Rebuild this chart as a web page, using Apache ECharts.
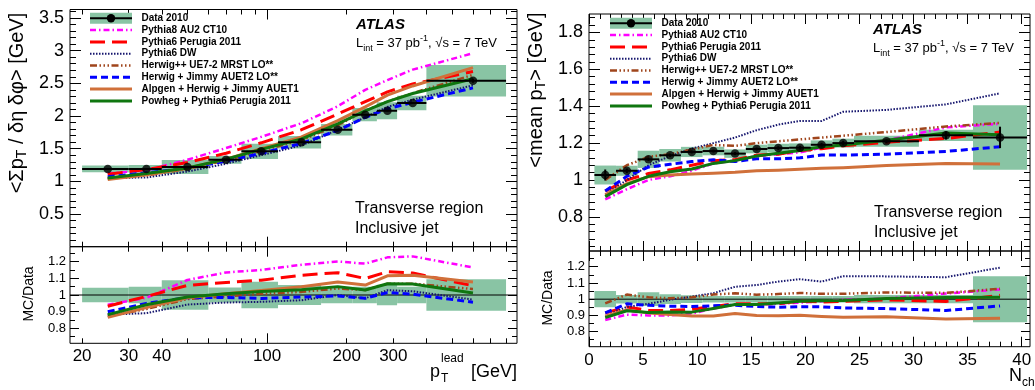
<!DOCTYPE html>
<html>
<head>
<meta charset="utf-8">
<script src="https://cdn.jsdelivr.net/npm/echarts@6.0.0/dist/echarts.min.js"></script>
<style>
html, body { margin: 0; padding: 0; background: #fff; }
#chart { width: 1035px; height: 390px; }
</style>
</head>
<body>
<div id="chart"></div>
<script>
// ---------- Sum pT density vs leading-jet pT (transverse region) ----------
const ptEdges   = [20, 30, 40, 60, 80, 110, 160, 210, 260, 310, 400, 800];
const ptCenters = [25, 35, 50, 70, 95, 135, 185, 235, 285, 355, 600];
const sumPtData    = [1.19, 1.19, 1.22, 1.33, 1.46, 1.60, 1.79, 2.02, 2.08, 2.20, 2.54];
const sumPtStat    = [0.01, 0.01, 0.01, 0.01, 0.01, 0.01, 0.01, 0.01, 0.012, 0.015, 0.03];
const sumPtSystRel = [0.043, 0.05, 0.088, 0.045, 0.08, 0.06, 0.05, 0.05, 0.062, 0.05, 0.095];
const sumPtPythia8  = [1.12, 1.17, 1.33, 1.51, 1.68, 1.89, 2.15, 2.40, 2.55, 2.71, 2.96];
const sumPtPerugia  = [1.11, 1.18, 1.29, 1.43, 1.59, 1.79, 2.03, 2.22, 2.37, 2.49, 2.68];
const sumPtDW       = [1.05, 1.06, 1.15, 1.27, 1.40, 1.55, 1.79, 1.98, 2.14, 2.25, 2.47];
const sumPtHerwigpp = [1.04, 1.09, 1.19, 1.32, 1.47, 1.63, 1.86, 2.08, 2.22, 2.35, 2.63];
const sumPtJimmy    = [1.07, 1.13, 1.20, 1.31, 1.43, 1.58, 1.78, 1.98, 2.11, 2.21, 2.43];
const sumPtAlpgen   = [1.03, 1.10, 1.20, 1.34, 1.50, 1.68, 1.93, 2.14, 2.32, 2.46, 2.74];
const sumPtPowheg   = [1.05, 1.12, 1.205, 1.34, 1.49, 1.65, 1.88, 2.08, 2.22, 2.345, 2.57];

// ---------- Mean pT vs charged multiplicity (transverse region) ----------
const nchEdges   = [0.5, 2.5, 4.5, 6.5, 8.5, 10.5, 12.5, 14.5, 16.5, 18.5, 20.5, 22.5, 24.5, 30.5, 35.5, 40.5];
const nchCenters = [1.5, 3.5, 5.5, 7.5, 9.5, 11.5, 13.5, 15.5, 17.5, 19.5, 21.5, 23.5, 27.5, 33, 38];
const meanPtData    = [1.027, 1.05, 1.112, 1.134, 1.152, 1.157, 1.143, 1.168, 1.173, 1.175, 1.191, 1.20, 1.21, 1.242, 1.231];
const meanPtStat    = [0.03, 0.012, 0.008, 0.008, 0.008, 0.008, 0.008, 0.008, 0.01, 0.01, 0.01, 0.012, 0.01, 0.022, 0.058];
const meanPtSystRel = [0.05, 0.026, 0.042, 0.03, 0.024, 0.02, 0.02, 0.02, 0.02, 0.02, 0.02, 0.02, 0.025, 0.025, 0.142];
const meanPtPythia8  = [0.895, 0.95, 1.00, 1.02, 1.05, 1.09, 1.105, 1.13, 1.14, 1.15, 1.175, 1.195, 1.215, 1.285, 1.305];
const meanPtPerugia  = [0.94, 1.00, 1.035, 1.055, 1.08, 1.105, 1.11, 1.135, 1.14, 1.16, 1.17, 1.185, 1.205, 1.225, 1.26];
const meanPtDW       = [0.92, 1.00, 1.08, 1.13, 1.17, 1.20, 1.23, 1.27, 1.30, 1.32, 1.32, 1.37, 1.38, 1.41, 1.47];
const meanPtHerwigpp = [1.00, 1.08, 1.125, 1.14, 1.165, 1.19, 1.185, 1.20, 1.21, 1.22, 1.23, 1.24, 1.26, 1.29, 1.31];
const meanPtJimmy    = [0.94, 1.02, 1.07, 1.085, 1.10, 1.11, 1.10, 1.115, 1.115, 1.12, 1.135, 1.135, 1.14, 1.155, 1.18];
const meanPtAlpgen   = [0.92, 0.98, 1.018, 1.027, 1.033, 1.037, 1.042, 1.05, 1.053, 1.058, 1.064, 1.067, 1.078, 1.09, 1.087];
const meanPtPowheg   = [0.91, 0.975, 1.02, 1.045, 1.06, 1.09, 1.105, 1.13, 1.145, 1.16, 1.18, 1.19, 1.215, 1.255, 1.245];

// ---------- Labels ----------
const dataLabel = 'Data 2010';
const modelNames = [
  'Pythia8 AU2 CT10',
  'Pythia6 Perugia 2011',
  'Pythia6 DW',
  'Herwig++ UE7-2 MRST LO**',
  'Herwig + Jimmy AUET2 LO**',
  'Alpgen + Herwig + Jimmy AUET1',
  'Powheg + Pythia6 Perugia 2011'
];
const ptTickLabels  = [20, 30, 40, 100, 200, 300];
const nchTickLabels = [0, 5, 10, 15, 20, 25, 30, 35, 40];

const sumPtModels  = [sumPtPythia8, sumPtPerugia, sumPtDW, sumPtHerwigpp, sumPtJimmy, sumPtAlpgen, sumPtPowheg];
const meanPtModels = [meanPtPythia8, meanPtPerugia, meanPtDW, meanPtHerwigpp, meanPtJimmy, meanPtAlpgen, meanPtPowheg];

// ---------- Styling ----------
const FONT = '"Liberation Sans", Arial, Helvetica, sans-serif';
const BOX_COLOR = '#89c4a4';
const modelStyles = [
  { color: '#ff00ff', width: 2.5, dash: [6, 3, 1.5, 3] },
  { color: '#ff0000', width: 3,   dash: [15, 7] },
  { color: '#16166e', width: 2,   dash: [1.5, 1.5] },
  { color: '#a0451c', width: 2.5, dash: [7, 2.5, 1.5, 2.5, 1.5, 2.5, 1.5, 2.5] },
  { color: '#0000ff', width: 3,   dash: [7, 4] },
  { color: '#d0703a', width: 3,   dash: 'solid' },
  { color: '#0f760f', width: 3,   dash: 'solid' }
];

const lg = v => Math.log10(v);
const ident = v => v;
function steps(a, b, s) {
  const out = [];
  for (let k = 0; a + k * s <= b + 1e-9; k++) out.push(Math.round((a + k * s) * 10000) / 10000);
  return out;
}

const xAxes = [];
const yAxes = [];
const grids = [];

// One panel = one grid framed on all four sides, with ROOT-style inward ticks
function addPanel(rect, xs, ys) {
  const g = grids.length;
  grids.push(Object.assign({ show: true, borderColor: '#000', borderWidth: 1, backgroundColor: 'transparent',
    containLabel: false, outerBoundsMode: 'none' }, rect));
  const xi = xAxes.length;
  ['bottom', 'top'].forEach((pos, k) => {
    [[xs.major, xs.majorLen], [xs.minor, xs.minorLen]].forEach(([vals, len], m) => {
      const withLabels = k === 0 && m === 0 && xs.labels;
      xAxes.push({
        gridIndex: g, type: 'value', position: pos, min: xs.min, max: xs.max,
        axisLine: { show: false, onZero: false },
        splitLine: { show: false },
        axisTick: { show: true, inside: true, length: len, customValues: vals, lineStyle: { color: '#000', width: 1 } },
        axisLabel: withLabels ? {
          show: true, customValues: xs.labels, formatter: xs.fmt, margin: xs.margin,
          fontSize: xs.fontSize, color: '#000', fontFamily: FONT
        } : { show: false }
      });
    });
  });
  const yi = yAxes.length;
  ['left', 'right'].forEach((pos, k) => {
    [[ys.major, ys.majorLen], [ys.minor, ys.minorLen]].forEach(([vals, len], m) => {
      const withLabels = k === 0 && m === 0 && ys.labels;
      yAxes.push({
        gridIndex: g, type: 'value', position: pos, min: ys.min, max: ys.max,
        axisLine: { show: false, onZero: false },
        splitLine: { show: false },
        axisTick: { show: true, inside: true, length: len, customValues: vals, lineStyle: { color: '#000', width: 1 } },
        axisLabel: withLabels ? {
          show: true, customValues: ys.labels, margin: ys.margin,
          fontSize: ys.fontSize, color: '#000', fontFamily: FONT
        } : { show: false }
      });
    });
  });
  return { xi, yi };
}

// tick sets
const ptMajor = [lg(100)];
const ptMinor = [20, 30, 40, 50, 60, 70, 80, 90, 200, 300, 400, 500, 600, 700, 800].map(lg);
const ptLabelFmt = v => String(Math.round(Math.pow(10, v)));
const nchMajor = steps(0, 40, 5);
const nchMinor = steps(0, 40, 1);
const ratioMajor = [0.8, 0.9, 1, 1.1, 1.2];
const ratioMinor = steps(0.75, 1.25, 0.05);

const ptX = { min: lg(18), max: lg(880), major: ptMajor, minor: ptMinor, majorLen: 10, minorLen: 5 };
const nchX = { min: 0, max: 40.77, major: nchMajor, minor: nchMinor, majorLen: 10, minorLen: 5 };

const pL = addPanel({ left: 70, top: 9.5, width: 447, height: 237.2 },
  ptX,
  { min: 0, max: 3.63, major: steps(0, 3.5, 0.5), minor: steps(0, 3.6, 0.1), majorLen: 11, minorLen: 6,
    labels: steps(0.5, 3.5, 0.5), margin: 6, fontSize: 18 });
const rL = addPanel({ left: 70, top: 246.7, width: 447, height: 96.6 },
  Object.assign({}, ptX, { labels: ptTickLabels.map(lg), fmt: ptLabelFmt, margin: 5, fontSize: 17 }),
  { min: 0.71, max: 1.29, major: ratioMajor, minor: ratioMinor, majorLen: 9, minorLen: 5,
    labels: ratioMajor, margin: 4, fontSize: 13 });
const pR = addPanel({ left: 589, top: 14, width: 441, height: 237 },
  nchX,
  { min: 0.615, max: 1.9, major: steps(0.8, 1.8, 0.2), minor: steps(0.64, 1.88, 0.04), majorLen: 11, minorLen: 6,
    labels: steps(0.8, 1.8, 0.2), margin: 6, fontSize: 18 });
const rR = addPanel({ left: 589, top: 251, width: 441, height: 95.7 },
  Object.assign({}, nchX, { labels: nchTickLabels, margin: 5, fontSize: 17 }),
  { min: 0.707, max: 1.297, major: ratioMajor, minor: ratioMinor, majorLen: 9, minorLen: 5,
    labels: ratioMajor, margin: 4, fontSize: 13 });

// ---------- Series builders ----------
function boxSeries(ax, edges, vals, rel, tx) {
  return {
    type: 'custom', xAxisIndex: ax.xi, yAxisIndex: ax.yi, z: 1, silent: true, clip: true,
    data: vals.map((v, i) => [tx(edges[i]), tx(edges[i + 1]), v * (1 - rel[i]), v * (1 + rel[i])]),
    renderItem: (params, api) => {
      const a = api.coord([api.value(0), api.value(3)]);
      const b = api.coord([api.value(1), api.value(2)]);
      return { type: 'rect', shape: { x: a[0], y: a[1], width: b[0] - a[0], height: b[1] - a[1] },
        style: { fill: BOX_COLOR } };
    }
  };
}

function modelSeries(ax, centers, vals, k, tx) {
  const s = modelStyles[k];
  return {
    type: 'line', xAxisIndex: ax.xi, yAxisIndex: ax.yi, z: 3 + k, silent: true,
    symbol: 'none', showSymbol: false, clip: true,
    data: centers.map((c, i) => [tx(c), vals[i]]),
    lineStyle: { color: s.color, width: s.width, type: s.dash, cap: 'butt', join: 'round' }
  };
}

function dataSeries(ax, edges, centers, vals, stat, tx) {
  return [{
    type: 'custom', xAxisIndex: ax.xi, yAxisIndex: ax.yi, z: 20, silent: true, clip: true,
    data: vals.map((v, i) => [tx(edges[i]), tx(edges[i + 1]), v, stat[i], tx(centers[i])]),
    renderItem: (params, api) => {
      const l = api.coord([api.value(0), api.value(2)]);
      const r = api.coord([api.value(1), api.value(2)]);
      const t = api.coord([api.value(4), api.value(2) + api.value(3)]);
      const b = api.coord([api.value(4), api.value(2) - api.value(3)]);
      return { type: 'group', children: [
        { type: 'line', shape: { x1: l[0], y1: l[1], x2: r[0], y2: r[1] }, style: { stroke: '#000', lineWidth: 2 } },
        { type: 'line', shape: { x1: t[0], y1: t[1], x2: b[0], y2: b[1] }, style: { stroke: '#000', lineWidth: 2 } }
      ] };
    }
  }, {
    type: 'scatter', xAxisIndex: ax.xi, yAxisIndex: ax.yi, z: 21, silent: true,
    symbol: 'circle', symbolSize: 8.5, itemStyle: { color: '#000' },
    data: centers.map((c, i) => [tx(c), vals[i]])
  }];
}

function unitLine(ax, xmin, xmax) {
  return {
    type: 'line', xAxisIndex: ax.xi, yAxisIndex: ax.yi, z: 2, silent: true, symbol: 'none',
    data: [[xmin, 1], [xmax, 1]], lineStyle: { color: '#000', width: 1 }
  };
}

const series = [];
// left: main panel
series.push(boxSeries(pL, ptEdges, sumPtData, sumPtSystRel, lg));
sumPtModels.forEach((m, k) => series.push(modelSeries(pL, ptCenters, m, k, lg)));
series.push(...dataSeries(pL, ptEdges, ptCenters, sumPtData, sumPtStat, lg));
// left: ratio panel
series.push(boxSeries(rL, ptEdges, sumPtData.map(() => 1), sumPtSystRel, lg));
series.push(unitLine(rL, ptX.min, ptX.max));
sumPtModels.forEach((m, k) => series.push(modelSeries(rL, ptCenters, m.map((v, i) => v / sumPtData[i]), k, lg)));
// right: main panel
series.push(boxSeries(pR, nchEdges, meanPtData, meanPtSystRel, ident));
meanPtModels.forEach((m, k) => series.push(modelSeries(pR, nchCenters, m, k, ident)));
series.push(...dataSeries(pR, nchEdges, nchCenters, meanPtData, meanPtStat, ident));
// right: ratio panel
series.push(boxSeries(rR, nchEdges, meanPtData.map(() => 1), meanPtSystRel, ident));
series.push(unitLine(rR, nchX.min, nchX.max));
meanPtModels.forEach((m, k) => series.push(modelSeries(rR, nchCenters, m.map((v, i) => v / meanPtData[i]), k, ident)));

// ---------- Legends and annotations ----------
function legendBlock(x0, y0, step) {
  const out = [];
  out.push({ type: 'rect', shape: { x: x0, y: y0 - 5.5, width: 42, height: 11 }, style: { fill: BOX_COLOR }, z: 50 });
  out.push({ type: 'line', shape: { x1: x0, y1: y0, x2: x0 + 42, y2: y0 }, style: { stroke: '#000', lineWidth: 2 }, z: 51 });
  out.push({ type: 'circle', shape: { cx: x0 + 21, cy: y0, r: 4.2 }, style: { fill: '#000' }, z: 52 });
  out.push({ type: 'text', x: x0 + 51.5, y: y0, z: 52,
    style: { text: dataLabel, font: 'bold 10px ' + FONT, fill: '#000', verticalAlign: 'middle' } });
  modelNames.forEach((name, k) => {
    const y = y0 + step * (k + 1);
    const s = modelStyles[k];
    out.push({ type: 'line', shape: { x1: x0, y1: y, x2: x0 + 42, y2: y }, z: 51,
      style: { stroke: s.color, lineWidth: s.width, lineDash: s.dash === 'solid' ? null : s.dash, lineCap: 'butt' } });
    out.push({ type: 'text', x: x0 + 51.5, y: y, z: 52,
      style: { text: name, font: 'bold 10px ' + FONT, fill: '#000', verticalAlign: 'middle' } });
  });
  return out;
}

function atlasBlock(x, y) {
  return [
    { type: 'text', x: x, y: y, z: 52,
      style: { text: 'ATLAS', font: 'italic bold 15px ' + FONT, fill: '#000', verticalAlign: 'middle' } },
    { type: 'text', x: x, y: y + 18.5, z: 52,
      style: { text: 'L{sub|int} = 37 pb{sup|-1}, √s = 7 TeV', fontSize: 13, fontFamily: FONT, fill: '#000',
        lineHeight: 19, verticalAlign: 'middle',
        rich: { sub: { fontSize: 9, fontFamily: FONT, lineHeight: 9, verticalAlign: 'bottom' },
                sup: { fontSize: 9, fontFamily: FONT, lineHeight: 9, verticalAlign: 'top' } } } }
  ];
}

function regionBlock(x, y) {
  return [
    { type: 'text', x: x, y: y, z: 52, style: { text: 'Transverse region', font: '16px ' + FONT, fill: '#000', verticalAlign: 'middle' } },
    { type: 'text', x: x, y: y + 20, z: 52, style: { text: 'Inclusive jet', font: '16px ' + FONT, fill: '#000', verticalAlign: 'middle' } }
  ];
}

function vText(x, y, text, size, rich) {
  return { type: 'text', x: x, y: y, rotation: Math.PI / 2, z: 52,
    style: { text: text, fontSize: size, fontFamily: FONT, fill: '#000', align: 'center', verticalAlign: 'middle',
      lineHeight: size + 4, rich: rich || {} } };
}

const subRich = { sub: { fontSize: 14, fontFamily: FONT, lineHeight: 12, verticalAlign: 'bottom' } };

const graphics = [].concat(
  legendBlock(90, 18.3, 11.8),
  legendBlock(610, 23.3, 11.8),
  atlasBlock(356, 25),
  atlasBlock(873, 30),
  regionBlock(355, 208.3),
  regionBlock(874, 212.7),
  [
    vText(17, 103, '<Σp{sub|T} / δη δφ> [GeV]', 20, subRich),
    vText(536, 90, '<mean p{sub|T}> [GeV]', 20, subRich),
    vText(29, 294, 'MC/Data', 14),
    vText(548, 298, 'MC/Data', 14),
    // x titles
    { type: 'text', x: 430, y: 372, z: 52, style: { text: 'p', font: '18px ' + FONT, fill: '#000', verticalAlign: 'middle' } },
    { type: 'text', x: 441, y: 359, z: 52, style: { text: 'lead', font: '12px ' + FONT, fill: '#000', verticalAlign: 'middle' } },
    { type: 'text', x: 441, y: 379, z: 52, style: { text: 'T', font: '12px ' + FONT, fill: '#000', verticalAlign: 'middle' } },
    { type: 'text', x: 517, y: 372, z: 52, style: { text: '[GeV]', font: '18px ' + FONT, fill: '#000', align: 'right', verticalAlign: 'middle' } },
    { type: 'text', x: 1009, y: 376, z: 52, style: { text: 'N', font: '18px ' + FONT, fill: '#000', verticalAlign: 'middle' } },
    { type: 'text', x: 1022, y: 383, z: 52, style: { text: 'ch', font: '12px ' + FONT, fill: '#000', verticalAlign: 'middle' } }
  ]
);

const chart = echarts.init(document.getElementById('chart'), null, { renderer: 'canvas' });
chart.setOption({
  animation: false,
  backgroundColor: '#fff',
  grid: grids,
  xAxis: xAxes,
  yAxis: yAxes,
  series: series,
  graphic: { elements: graphics }
});
</script>
</body>
</html>
